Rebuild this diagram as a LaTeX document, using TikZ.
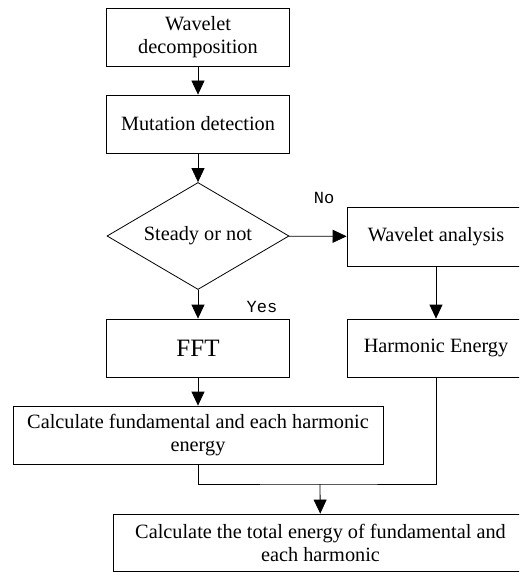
\documentclass[tikz,border=0pt]{standalone}
\usepackage{fontspec}
\setmainfont{Liberation Serif}
\newfontfamily\tagfont{Liberation Mono}
\usetikzlibrary{shapes.geometric,arrows.meta}
\tikzset{
	box/.style={draw, line width=0.8pt, inner sep=0pt, align=center, minimum height=58pt, font=\fontsize{20.3}{23}\selectfont},
	decision/.style={draw, diamond, aspect=1.7, line width=0.8pt, inner sep=0pt, minimum width=182pt, minimum height=107pt, font=\fontsize{20.3}{23}\selectfont},
	arr/.style={-{Triangle[length=14pt,width=13pt]}, line width=0.8pt},
	tag/.style={font=\tagfont\fontsize{17}{20}\selectfont}
}
\begin{document}
\begin{tikzpicture}[x=1pt,y=-1pt]
			\useasboundingbox (0,0) rectangle (519,572);
			\clip (0,0) rectangle (519,572);
		
			\node[box, minimum width=183pt] (dec) at (198,37) {Wavelet\\decomposition};
			\node[box, minimum width=183pt] (mut) at (198,124) {Mutation detection};
			\node[decision] (steady) at (198,236) {Steady or not};
			\node[box, minimum width=178pt, minimum height=59pt] (wa) at (436,236.5) {Wavelet analysis};
			\node[box, minimum width=183pt, font=\fontsize{25}{28}\selectfont] (fft) at (198,348) {FFT};
			\node[box, minimum width=178pt] (he) at (436,348) {Harmonic Energy};
			\node[box, minimum width=370pt] (calc) at (198,435) {Calculate fundamental and each harmonic\\energy};
			\node[box, minimum width=415pt, minimum height=57pt] (total) at (320.5,542.5) {Calculate the total energy of fundamental and\\each harmonic};
			
			\node[tag] (no) at (324,198) {No};
			\node[tag] (yes) at (262,307) {Yes};
			\coordinate (join) at (320,484);
			
			\draw[arr] (dec) -- (mut);
			\draw[arr] (mut) -- (steady);
			\draw[arr] (steady) -- (wa);
			\draw[arr] (steady) -- (fft);
			\draw[arr] (wa) -- (he);
			\draw[arr] (fft) -- (calc);
			\draw[line width=0.8pt] (calc.south) |- (join) -| (he.south);
			\draw[arr] (join) -- (total);
		\end{tikzpicture}
\end{document}
